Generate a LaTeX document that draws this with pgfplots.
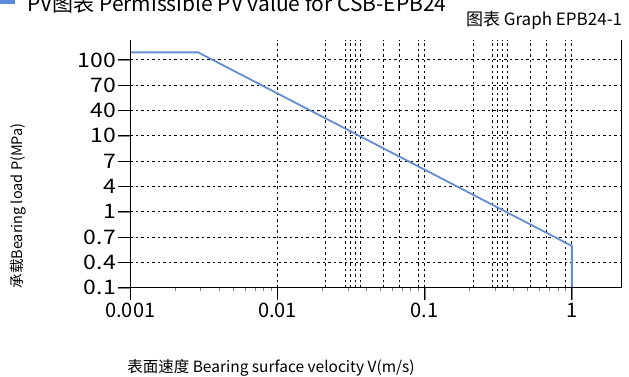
\documentclass[border=0pt]{standalone}
\usepackage{fontspec}
\setmainfont{Noto Sans CJK SC}
\usepackage{pgfplots}
\pgfplotsset{compat=1.18}
\definecolor{curve}{RGB}{100,140,210}
\definecolor{sq}{RGB}{90,140,220}
\begin{document}
\begin{tikzpicture}
\begin{axis}[
  scale only axis,
  width=490.7pt, height=248pt,
  xmode=log,
  xmin=0.001, xmax=2.157,
  ymin=0, ymax=9.8,
  axis line style={draw=none},
  xtick pos=bottom, ytick pos=left,
  xtick={0.001,0.01,0.1,1},
  xticklabels={0.001,0.01,0.1,1},
  minor xtick={},
  ytick={0,1,2,3,4,5,6,7,8,9},
  yticklabels={0.1,0.4,0.7,1,4,7,10,40,70,100},
  tick align=outside,
  major tick length=12pt,
  extra x ticks={0.0213,0.0289,0.0313,0.0337,0.0365,0.0522,0.0670,0.0902,
               0.213,0.289,0.313,0.337,0.365,0.522,0.670,0.902},
  extra x tick labels={},
  extra x tick style={major tick length=0pt},
  xmajorgrids, ymajorgrids,
  major grid style={black, line width=0.9pt, dash pattern=on 2.5pt off 3pt},
  /pgf/number format/assume math mode=true,
  ticklabel style={font=\fontsize{20}{24}\selectfont},
  yticklabel style={inner sep=0pt, xscale=1.15, anchor=east, xshift=-2pt},
  xticklabel style={inner sep=1pt, yshift=-2pt},
  clip=false,
]
\addplot[curve, line width=1.8pt] coordinates {
  (0.001,9.30) (0.00289,9.30) (1,1.65) (1,0)
};
\draw[black, line width=1pt] (rel axis cs:0,1) -- (rel axis cs:0,0) -- (rel axis cs:1,0) -- (rel axis cs:1,1);
% tick marks
\draw[black, line width=1pt]
  (axis cs:0.001,0) -- ([yshift=-12pt]axis cs:0.001,0)
  (axis cs:0.01,0) -- ([yshift=-12pt]axis cs:0.01,0)
  (axis cs:0.1,0) -- ([yshift=-12pt]axis cs:0.1,0)
  (axis cs:1,0) -- ([yshift=-12pt]axis cs:1,0)
  (axis cs:0.001,0) -- ([xshift=-12pt]axis cs:0.001,0)
  (axis cs:0.001,1) -- ([xshift=-12pt]axis cs:0.001,1)
  (axis cs:0.001,2) -- ([xshift=-12pt]axis cs:0.001,2)
  (axis cs:0.001,3) -- ([xshift=-12pt]axis cs:0.001,3)
  (axis cs:0.001,4) -- ([xshift=-12pt]axis cs:0.001,4)
  (axis cs:0.001,5) -- ([xshift=-12pt]axis cs:0.001,5)
  (axis cs:0.001,6) -- ([xshift=-12pt]axis cs:0.001,6)
  (axis cs:0.001,7) -- ([xshift=-12pt]axis cs:0.001,7)
  (axis cs:0.001,8) -- ([xshift=-12pt]axis cs:0.001,8)
  (axis cs:0.001,9) -- ([xshift=-12pt]axis cs:0.001,9);
\end{axis}
% title (cut at top)
\fill[sq] (-130.3pt,283.7pt) rectangle (-115.3pt,296pt);
\node[anchor=base west, inner sep=0pt, font=\fontsize{21}{25}\selectfont] at (-103.3pt,276.2pt) {PV图表 Permissible PV value for CSB-EPB24};
\node[anchor=base east, inner sep=0pt, font=\fontsize{17}{20}\selectfont] at (492pt,261.7pt) {图表 Graph EPB24-1};
\node[rotate=90, inner sep=0pt, font=\fontsize{14.5}{17}\selectfont] at (-112.3pt,81.7pt) {承载Bearing load P(MPa)};
\node[inner sep=0pt, font=\fontsize{15.5}{18}\selectfont] at (140.7pt,-80.3pt) {表面速度 Bearing surface velocity V(m/s)};
\pgfresetboundingbox
\path[use as bounding box] (-130.3pt,-89.3pt) rectangle (498.7pt,287.7pt);
\end{tikzpicture}
\end{document}
